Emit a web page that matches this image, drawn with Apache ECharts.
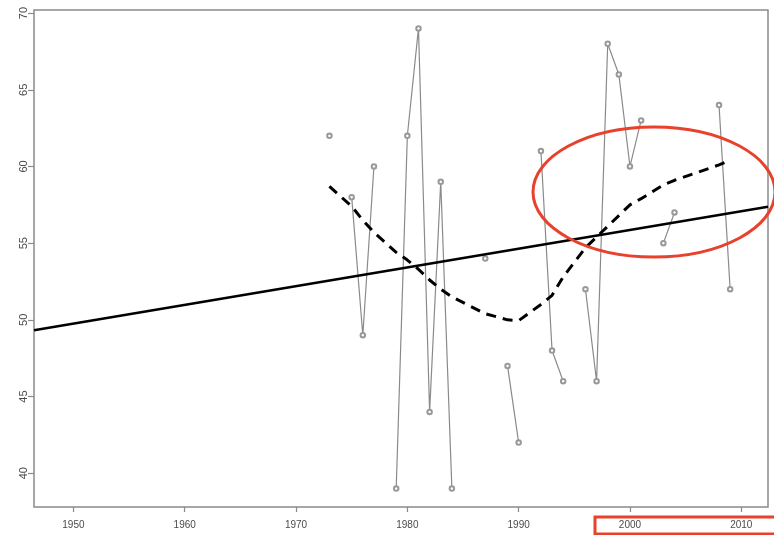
<!DOCTYPE html>
<html>
<head>
<meta charset="utf-8">
<script src="https://cdn.jsdelivr.net/npm/echarts@6/dist/echarts.min.js"></script>
<style>
html,body{margin:0;padding:0;background:#fff;}
#chart{width:774px;height:535px;}
</style>
</head>
<body>
<div id="chart"></div>
<script>
// Observations (year, value)
const years = [1973, 1975, 1976, 1977, 1979, 1980, 1981, 1982, 1983, 1984, 1987, 1989, 1990, 1992, 1993, 1994, 1996, 1997, 1998, 1999, 2000, 2001, 2003, 2004, 2008, 2009];
const values = [62, 58, 49, 60, 39, 62, 69, 44, 59, 39, 54, 47, 42, 61, 48, 46, 52, 46, 68, 66, 60, 63, 55, 57, 64, 52];
// Smoothed (lowess) curve values at the observed years
const smoothValues = [58.7, 57.4, 56.5, 55.7, 54.4, 53.9, 53.3, 52.6, 52.0, 51.5, 50.4, 50.0, 49.95, 51.0, 51.6, 52.8, 54.7, 55.4, 56.1, 56.8, 57.5, 57.9, 58.8, 59.1, 60.1, 60.4];
// Linear trend end points
const trendYears = [1946.46, 2012.4];
const trendValues = [49.32, 57.37];
// Tick labels
const xTicks = [1950, 1960, 1970, 1980, 1990, 2000, 2010];
const yTicks = [40, 45, 50, 55, 60, 65, 70];

// build observed data with breaks at missing years
const obsData = [];
for (let i = 0; i < years.length; i++) {
  if (i > 0 && years[i] - years[i - 1] > 1) obsData.push([years[i - 1] + 1, '-']);
  obsData.push([years[i], values[i]]);
}
const smoothData = years.map((y, i) => [y, smoothValues[i]]);
const trendData = trendYears.map((y, i) => [y, trendValues[i]]);

const chart = echarts.init(document.getElementById('chart'), null, {renderer: 'canvas'});
const axisGray = '#8a8a8a';
const labelGray = '#4a4a4a';
const font = 'Liberation Sans, Arial, sans-serif';
chart.setOption({
  animation: false,
  backgroundColor: '#fff',
  grid: {left: 34, right: 6, top: 10, bottom: 28, show: true, borderColor: axisGray, borderWidth: 1.5, backgroundColor: 'transparent'},
  xAxis: {
    type: 'value', min: 1946.46, max: 2012.4,
    splitLine: {show: false},
    axisLine: {show: false, onZero: false},
    axisTick: {show: true, length: 5, customValues: xTicks, lineStyle: {color: axisGray, width: 1.2}},
    axisLabel: {customValues: xTicks, formatter: v => String(v), color: labelGray, fontSize: 10, margin: 13, fontFamily: font}
  },
  yAxis: {
    type: 'value', min: 37.8, max: 70.2,
    splitLine: {show: false},
    axisLine: {show: false, onZero: false},
    axisTick: {show: true, length: 6, customValues: yTicks, lineStyle: {color: axisGray, width: 1.2}},
    axisLabel: {customValues: yTicks, formatter: v => String(v), rotate: 90, color: labelGray, fontSize: 11, margin: 5, fontFamily: font}
  },
  series: [
    {
      type: 'line', data: obsData, connectNulls: false,
      symbol: 'emptyCircle', symbolSize: 4.5,
      lineStyle: {color: axisGray, width: 1.2},
      itemStyle: {color: '#999', borderWidth: 0.9},
      z: 2
    },
    {
      type: 'line', data: trendData, symbol: 'none',
      lineStyle: {color: '#000', width: 2.6}, z: 3
    },
    {
      type: 'line', data: smoothData, symbol: 'none',
      lineStyle: {color: '#000', width: 3, type: [10, 7]}, z: 4
    }
  ],
  graphic: [
    {type: 'ellipse', shape: {cx: 654, cy: 192, rx: 121, ry: 65}, style: {fill: 'none', stroke: '#e8412c', lineWidth: 3}, z: 100},
    {type: 'rect', shape: {x: 595, y: 517, width: 200, height: 17}, style: {fill: 'none', stroke: '#e8412c', lineWidth: 3}, z: 100}
  ]
});
</script>
</body>
</html>
